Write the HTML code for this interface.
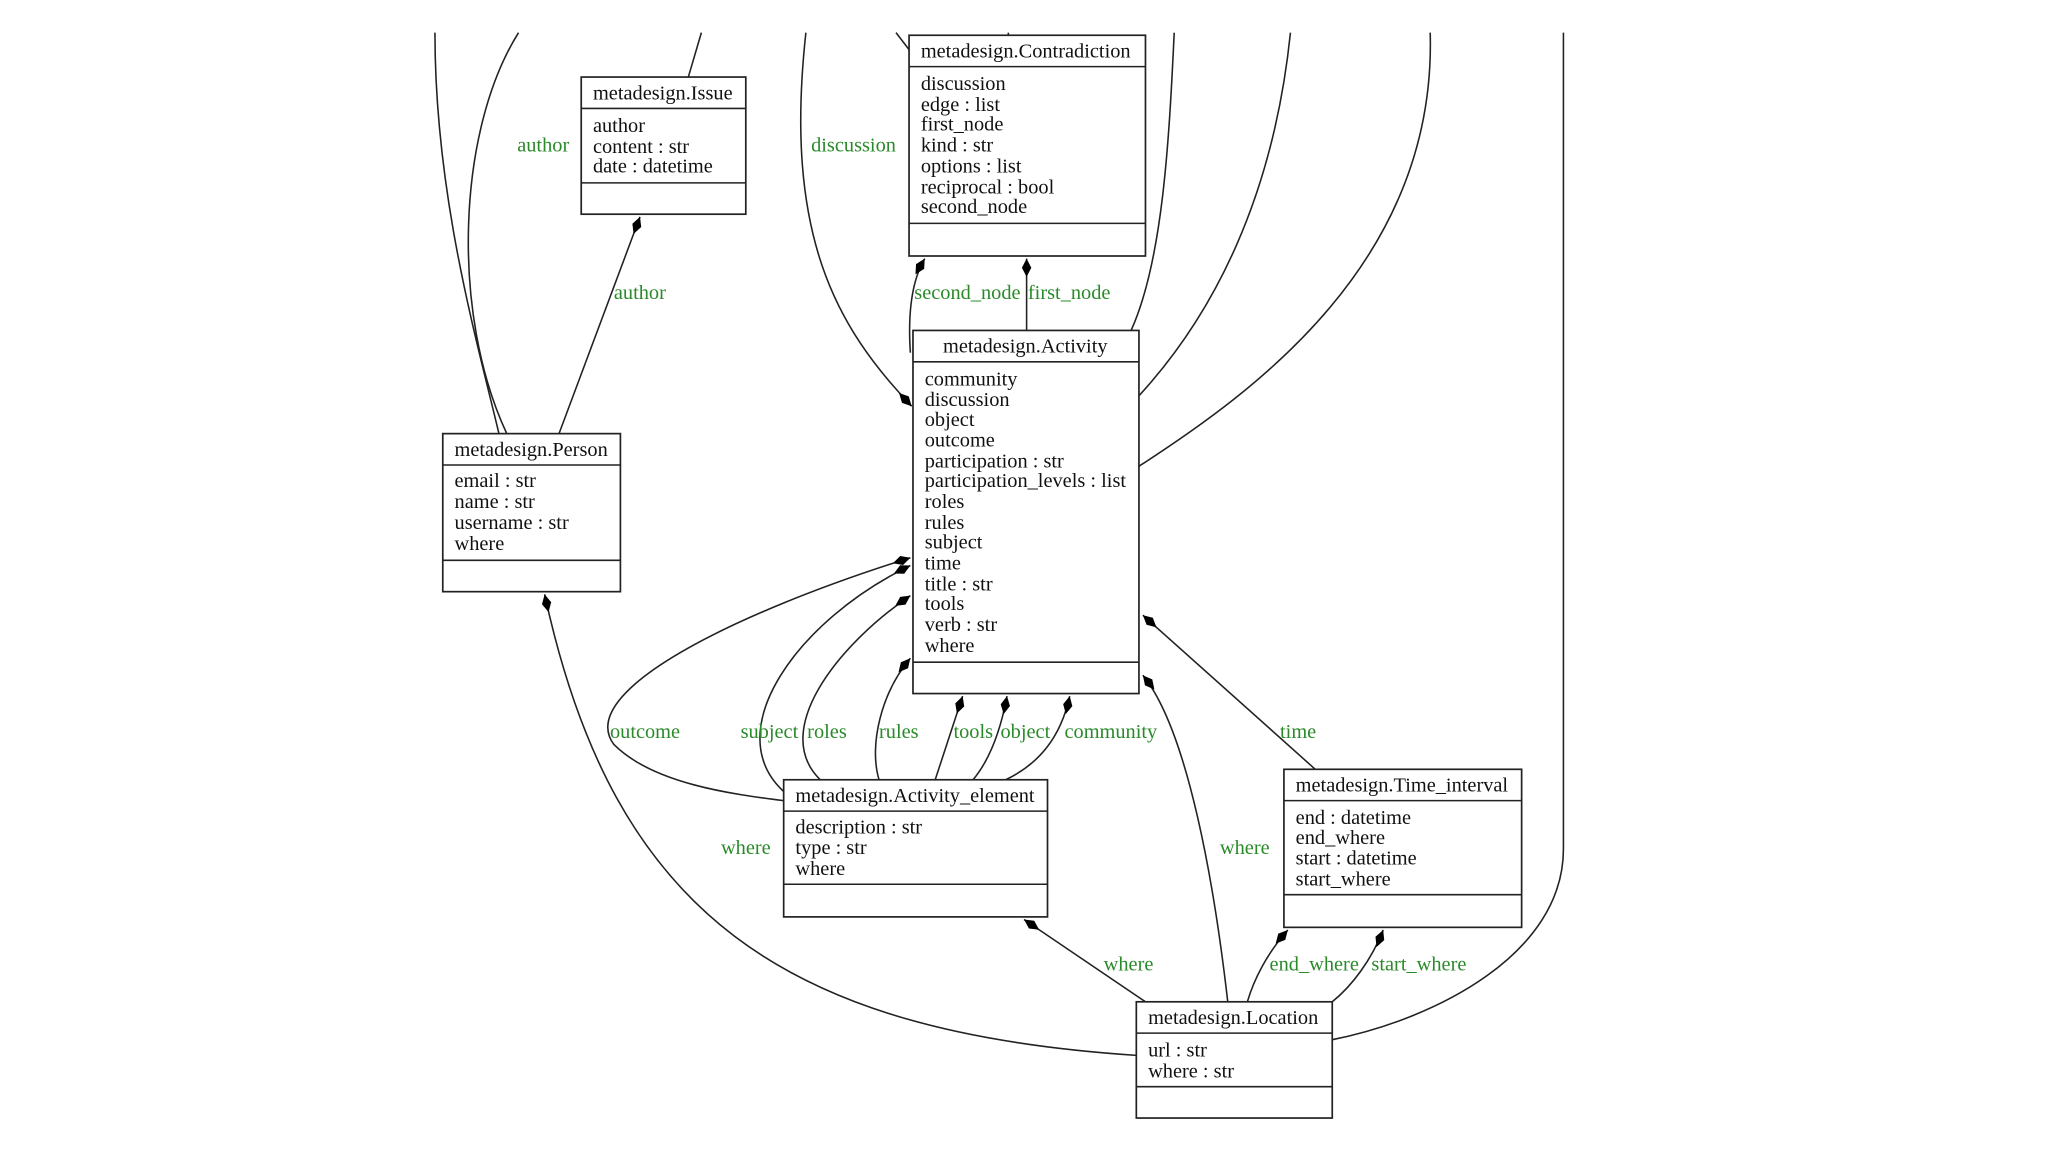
<!DOCTYPE html>
<html><head><meta charset="utf-8">
<style>
html,body{margin:0;padding:0;background:#fff;}
svg{display:block;}
text{font-family:"Liberation Serif",serif;font-size:15.6px;fill:#111;}
.g{fill:#2a8a2a;}
.b{fill:#fff;stroke:#222;stroke-width:1.3;}
.e{fill:none;stroke:#222;stroke-width:1.2;}
</style></head><body>
<svg width="2048" height="1152" viewBox="0 0 1568 882" xmlns="http://www.w3.org/2000/svg">
<defs>
<marker id="d" viewBox="-7 -4 14 8" refX="-7" refY="0" markerWidth="14" markerHeight="8" markerUnits="userSpaceOnUse" orient="auto">
<path d="M-7,0 L0,-3.6 L7,0 L0,3.6 Z" fill="#000"/>
</marker>
</defs>
<rect width="1568" height="882" fill="#fff"/>

<path class="e" d="M333,25 C333,150 365,260 382,332"/>
<path class="e" d="M397,25 C350,100 345,240 388,332"/>
<path class="e" d="M537,25 L527,59"/>
<path class="e" marker-start="url(#d)" d="M490,166 L428,332"/>
<path class="e" marker-start="url(#d)" d="M698,311 C640,250 600,180 617,25"/>
<path class="e" d="M686,25 L696,38"/>
<path class="e" d="M772,25 L772,27"/>
<path class="e" marker-start="url(#d)" d="M708,198 C698,215 695,240 697,270"/>
<path class="e" marker-start="url(#d)" d="M786,198 L786,253"/>
<path class="e" d="M899,25 C895,110 890,200 866,253"/>
<path class="e" d="M988,25 C975,150 930,240 872,303"/>
<path class="e" d="M1095,25 C1100,200 960,300 872,357"/>
<path class="e" d="M1197,25 L1197,650 C1197,730 1100,780 1020,796"/>

<path class="e" marker-start="url(#d)" d="M697,427 C560,470 440,530 470,570 C500,600 560,608 600,613"/>
<path class="e" marker-start="url(#d)" d="M697,433 C610,475 550,560 600,606"/>
<path class="e" marker-start="url(#d)" d="M697,456 C640,495 590,560 628,597"/>
<path class="e" marker-start="url(#d)" d="M697,504 C675,530 665,570 673,597"/>
<path class="e" marker-start="url(#d)" d="M737,533 L716,597"/>
<path class="e" marker-start="url(#d)" d="M771,533 C765,565 755,585 745,597"/>
<path class="e" marker-start="url(#d)" d="M819,533 C812,565 795,585 770,597"/>
<path class="e" marker-start="url(#d)" d="M875,471 L1007,589"/>
<path class="e" marker-start="url(#d)" d="M875,517 C910,560 930,680 940,767"/>

<path class="e" marker-start="url(#d)" d="M417,455 C470,700 600,790 870,808"/>
<path class="e" marker-start="url(#d)" d="M784,704 L877,767"/>
<path class="e" marker-start="url(#d)" d="M986,712 C970,730 960,750 955,767"/>
<path class="e" marker-start="url(#d)" d="M1059,712 C1050,735 1035,755 1020,767"/>

<text class="g" x="396" y="116">author</text>
<text class="g" x="470" y="229">author</text>
<text class="g" x="621" y="116">discussion</text>
<text class="g" x="700" y="229">second_node</text>
<text class="g" x="787" y="229">first_node</text>
<text class="g" x="467" y="565">outcome</text>
<text class="g" x="567" y="565">subject</text>
<text class="g" x="618" y="565">roles</text>
<text class="g" x="673" y="565">rules</text>
<text class="g" x="730" y="565">tools</text>
<text class="g" x="766" y="565">object</text>
<text class="g" x="815" y="565">community</text>
<text class="g" x="980" y="565">time</text>
<text class="g" x="552" y="654">where</text>
<text class="g" x="934" y="654">where</text>
<text class="g" x="845" y="743">where</text>
<text class="g" x="972" y="743">end_where</text>
<text class="g" x="1050" y="743">start_where</text>

<rect class="b" x="445" y="59" width="126" height="105"/>
<line class="e" x1="445" y1="83" x2="571" y2="83"/>
<line class="e" x1="445" y1="140" x2="571" y2="140"/>
<text x="454" y="76">metadesign.Issue</text>
<text x="454" y="101">author</text>
<text x="454" y="117">content : str</text>
<text x="454" y="132">date : datetime</text>

<rect class="b" x="696" y="27" width="181" height="169"/>
<line class="e" x1="696" y1="51" x2="877" y2="51"/>
<line class="e" x1="696" y1="171" x2="877" y2="171"/>
<text x="705" y="44">metadesign.Contradiction</text>
<text x="705" y="69">discussion</text>
<text x="705" y="85">edge : list</text>
<text x="705" y="100">first_node</text>
<text x="705" y="116">kind : str</text>
<text x="705" y="132">options : list</text>
<text x="705" y="148">reciprocal : bool</text>
<text x="705" y="163">second_node</text>

<rect class="b" x="339" y="332" width="136" height="121"/>
<line class="e" x1="339" y1="356" x2="475" y2="356"/>
<line class="e" x1="339" y1="429" x2="475" y2="429"/>
<text x="348" y="349">metadesign.Person</text>
<text x="348" y="373">email : str</text>
<text x="348" y="389">name : str</text>
<text x="348" y="405">username : str</text>
<text x="348" y="421">where</text>

<rect class="b" x="699" y="253" width="173" height="278"/>
<line class="e" x1="699" y1="277" x2="872" y2="277"/>
<line class="e" x1="699" y1="507" x2="872" y2="507"/>
<text x="722" y="270">metadesign.Activity</text>
<text x="708" y="295">community</text>
<text x="708" y="311">discussion</text>
<text x="708" y="326">object</text>
<text x="708" y="342">outcome</text>
<text x="708" y="358">participation : str</text>
<text x="708" y="373">participation_levels : list</text>
<text x="708" y="389">roles</text>
<text x="708" y="405">rules</text>
<text x="708" y="420">subject</text>
<text x="708" y="436">time</text>
<text x="708" y="452">title : str</text>
<text x="708" y="467">tools</text>
<text x="708" y="483">verb : str</text>
<text x="708" y="499">where</text>

<rect class="b" x="600" y="597" width="202" height="105"/>
<line class="e" x1="600" y1="621" x2="802" y2="621"/>
<line class="e" x1="600" y1="677" x2="802" y2="677"/>
<text x="609" y="614">metadesign.Activity_element</text>
<text x="609" y="638">description : str</text>
<text x="609" y="654">type : str</text>
<text x="609" y="670">where</text>

<rect class="b" x="983" y="589" width="182" height="121"/>
<line class="e" x1="983" y1="613" x2="1165" y2="613"/>
<line class="e" x1="983" y1="685" x2="1165" y2="685"/>
<text x="992" y="606">metadesign.Time_interval</text>
<text x="992" y="631">end : datetime</text>
<text x="992" y="646">end_where</text>
<text x="992" y="662">start : datetime</text>
<text x="992" y="678">start_where</text>

<rect class="b" x="870" y="767" width="150" height="89"/>
<line class="e" x1="870" y1="791" x2="1020" y2="791"/>
<line class="e" x1="870" y1="832" x2="1020" y2="832"/>
<text x="879" y="784">metadesign.Location</text>
<text x="879" y="809">url : str</text>
<text x="879" y="825">where : str</text>
</svg>
</body></html>
